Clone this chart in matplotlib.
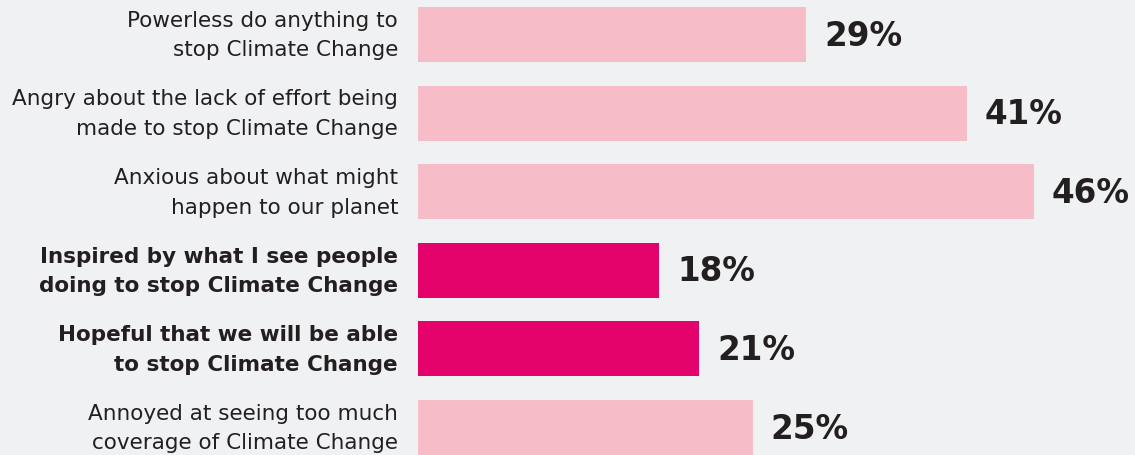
import matplotlib.pyplot as plt

labels = [
    "Powerless do anything to\nstop Climate Change",
    "Angry about the lack of effort being\nmade to stop Climate Change",
    "Anxious about what might\nhappen to our planet",
    "Inspired by what I see people\ndoing to stop Climate Change",
    "Hopeful that we will be able\nto stop Climate Change",
    "Annoyed at seeing too much\ncoverage of Climate Change",
]
values = [29, 41, 46, 18, 21, 25]
positive = [False, False, False, True, True, False]

bg = '#f0f1f3'
light = '#f6bcc8'
dark = '#e4036a'
text_col = '#231f20'

fig = plt.figure(figsize=(11.35, 4.55), dpi=100, facecolor=bg)
ax = fig.add_axes([418 / 1135, 0, 1 - 418 / 1135, 1], facecolor=bg)

y = list(range(len(values)))
colors = [dark if p else light for p in positive]
ax.barh(y, values, height=0.7, color=colors)

ax.set_xlim(0, 53.55)
ax.set_ylim(5.35, -0.439)

# value labels next to the bars
for yi, v in zip(y, values):
    ax.text(v + 1.35, yi + 0.02, f"{v}%", va='center', ha='left',
            fontsize=23.5, fontweight='bold', color=text_col)

# category labels, right aligned left of the bars
for yi, lab, p in zip(y, labels, positive):
    ax.text(-1.49, yi + 0.015, lab, ha='right', va='center', ma='right',
            fontsize=15.5, color=text_col, linespacing=1.6,
            fontweight='bold' if p else 'normal', clip_on=False)

ax.set_xticks([])
ax.set_yticks([])
for s in ax.spines.values():
    s.set_visible(False)

fig.savefig('out.png', dpi=100, facecolor=bg)
